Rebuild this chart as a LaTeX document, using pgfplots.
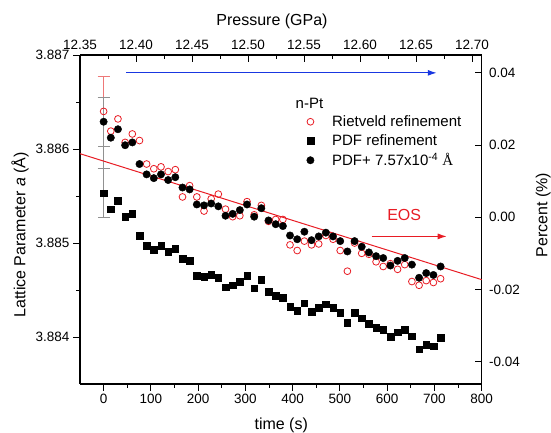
\documentclass[border=0pt]{standalone}
\usepackage{fontspec}
\setmainfont{Liberation Sans}
\newfontfamily\seriffont{Liberation Serif}
\usepackage{pgfplots}
\usepackage{pgfplotstable}
\pgfplotsset{compat=1.18}
\usetikzlibrary{arrows.meta}
\definecolor{eosred}{RGB}{232,28,36}
\definecolor{rblue}{RGB}{25,55,225}
\definecolor{ebred}{RGB}{238,120,120}
\definecolor{ebgray}{RGB}{145,145,145}

\pgfplotstableread{
t pdf riet
0.0 3.88553 3.88640
15.2 3.88536 3.88619
30.3 3.88545 3.88632
45.5 3.88528 3.88607
60.7 3.88531 3.88616
75.9 3.88508 3.88609
91.0 3.88497 3.88584
106.2 3.88493 3.88579
121.4 3.88497 3.88581
136.5 3.88491 3.88576
151.7 3.88494 3.88578
166.9 3.88483 3.88549
182.0 3.88481 3.88561
197.2 3.88465 3.88549
212.4 3.88464 3.88534
227.6 3.88466 3.88547
242.7 3.88463 3.88552
257.9 3.88453 3.88536
273.1 3.88455 3.88528
288.2 3.88459 3.88529
303.4 3.88465 3.88544
318.6 3.88452 3.88530
333.7 3.88461 3.88540
348.9 3.88448 3.88523
364.1 3.88444 3.88525
379.3 3.88442 3.88525
394.4 3.88432 3.88498
409.6 3.88428 3.88492
424.8 3.88436 3.88502
439.9 3.88427 3.88498
455.1 3.88431 3.88499
470.3 3.88435 3.88508
485.4 3.88431 3.88504
500.6 3.88426 3.88492
515.8 3.88415 3.88470
531.0 3.88426 3.88500
546.1 3.88420 3.88489
561.3 3.88414 3.88488
576.5 3.88410 3.88480
591.6 3.88408 3.88475
606.8 3.88400 3.88478
622.0 3.88405 3.88472
637.1 3.88408 3.88477
652.3 3.88401 3.88459
667.5 3.88387 3.88455
682.6 3.88392 3.88460
697.8 3.88390 3.88458
713.0 3.88399 3.88462
}\maindata

\pgfplotstableread{
t pdfp
0.0 3.88629
15.2 3.88612
30.3 3.88621
45.5 3.88604
60.7 3.88607
75.9 3.88584
91.0 3.88573
106.2 3.88569
121.4 3.88573
136.5 3.88567
151.7 3.88570
166.9 3.88559
182.0 3.88557
197.2 3.88541
212.4 3.88540
227.6 3.88542
242.7 3.88539
257.9 3.88529
273.1 3.88531
288.2 3.88535
303.4 3.88541
318.6 3.88528
333.7 3.88537
348.9 3.88524
364.1 3.88520
379.3 3.88518
394.4 3.88508
409.6 3.88504
424.8 3.88512
439.9 3.88503
455.1 3.88507
470.3 3.88511
485.4 3.88507
500.6 3.88502
515.8 3.88491
531.0 3.88502
546.1 3.88496
561.3 3.88490
576.5 3.88486
591.6 3.88484
606.8 3.88476
622.0 3.88481
637.1 3.88484
652.3 3.88477
667.5 3.88463
682.6 3.88468
697.8 3.88466
713.0 3.88475
}\shifteddata

\begin{document}
\begin{tikzpicture}
\pgfplotsset{
  every axis/.append style={
    scale only axis, width=401.7bp, height=329bp,
    axis line style={line width=1.2bp},
    every tick/.style={line width=0.9bp, black},
    major tick length=7bp, minor tick length=4bp,
    tick label style={font=\fontsize{13.5bp}{16bp}\selectfont},
    label style={font=\fontsize{16bp}{19bp}\selectfont},
    /pgf/number format/assume math mode=true,
  }
}
% right axis (percent)
\begin{axis}[
  xmin=-50, xmax=800, ymin=-0.0461, ymax=0.0449,
  axis y line*=right, axis x line=none,
  tick align=inside,
  ytick={-0.04,-0.02,0,0.02,0.04},
  yticklabel style={/pgf/number format/fixed, /pgf/number format/fixed zerofill, /pgf/number format/precision=2},
  scaled y ticks=false,
  yticklabel shift=4bp,
  ylabel={Percent (\%)},
  ylabel style={at={(axis description cs:1.153,0.514)}, anchor=center},
]
\end{axis}
% top axis (pressure)
\begin{axis}[
  xmin=12.35, xmax=12.7087, ymin=0, ymax=1,
  axis x line*=top, axis y line=none,
  tick align=inside,
  xtick={12.35,12.40,12.45,12.50,12.55,12.60,12.65,12.70}, minor x tick num=1,
  xticklabel style={/pgf/number format/fixed, /pgf/number format/fixed zerofill, /pgf/number format/precision=2},
  scaled x ticks=false,
  xticklabel shift=1.5bp,
  xlabel={Pressure (GPa)},
  xlabel style={at={(axis description cs:0.478,1.103)}, anchor=center},
]
\end{axis}
% main axis
\begin{axis}[
  xmin=-50, xmax=800, ymin=3.8835, ymax=3.887,
  axis x line*=bottom, axis y line*=left,
  tick align=outside,
  xtick={0,100,...,800}, minor x tick num=1,
  ytick={3.884,3.885,3.886,3.887}, minor y tick num=1,
  yticklabel style={/pgf/number format/fixed, /pgf/number format/fixed zerofill, /pgf/number format/precision=3},
  scaled y ticks=false,
  xlabel={time (s)},
  xlabel style={at={(axis description cs:0.501,-0.1246)}, anchor=center},
  ylabel={Lattice Parameter \textit{a} (Å)},
  ylabel style={at={(axis description cs:-0.149,0.453)}, anchor=center},
  clip=false,
  legend style={at={(axis cs:423,3.886400)}, anchor=north west, draw=none, fill=none,
    font=\fontsize{15bp}{18bp}\selectfont, row sep=2.5bp,
    /tikz/every odd column/.append style={column sep=16bp}},
  legend cell align=left,
]
% error bars
\addplot[ebred, line width=0.8bp, mark=none, forget plot,
  error bars/.cd, y dir=both, y explicit,
  error bar style={line width=0.8bp, ebred},
  error mark options={rotate=90, mark size=6bp, line width=0.8bp, ebred}]
  coordinates {(0,3.88640) +- (0,0.000373)};
\addplot[ebgray, line width=0.8bp, mark=none, forget plot,
  error bars/.cd, y dir=both, y explicit,
  error bar style={line width=0.8bp, ebgray},
  error mark options={rotate=90, mark size=6bp, line width=0.8bp, ebgray}]
  coordinates {(0,3.88629) +- (0,0.000260) (0,3.88553) +- (0,0.000260)};
% EOS line
\addplot[eosred, line width=1bp, mark=none, forget plot]
  coordinates {(-50,3.88595) (800,3.88461)};
% PDF squares
\addplot[only marks, mark=square*, mark size=3.3bp, black, forget plot]
  table[x=t, y=pdf] {\maindata};
% Rietveld open circles
\addplot[only marks, mark=o, mark size=3.4bp, eosred, mark options={line width=0.8bp}, forget plot]
  table[x=t, y=riet] {\maindata};
% PDF shifted filled circles
\addplot[only marks, mark=*, mark size=3.7bp, black, forget plot]
  table[x=t, y=pdfp] {\shifteddata};
% arrows and text
\draw[rblue, line width=1.2bp, -{Latex[length=9bp,width=6bp]}] (axis cs:48,3.88681) -- (axis cs:705,3.88681);
\draw[eosred, line width=1bp, -{Latex[length=9bp,width=6bp]}] (axis cs:567,3.88507) -- (axis cs:726,3.88507);
\node[eosred, font=\fontsize{16bp}{19bp}\selectfont] at (axis cs:636,3.88530) {EOS};
\node[anchor=west, font=\fontsize{15bp}{18bp}\selectfont] at (axis cs:399,3.88649) {n-Pt};
% legend
\addlegendimage{only marks, mark=o, mark size=3.4bp, eosred, mark options={line width=0.8bp}}
\addlegendentry{Rietveld refinement}
\addlegendimage{only marks, mark=square*, mark size=3.3bp, black}
\addlegendentry{PDF refinement}
\addlegendimage{only marks, mark=*, mark size=3.7bp, black}
\addlegendentry{PDF+ 7.57x10\textsuperscript{-4} {\seriffont Å}}
\coordinate (sw) at (rel axis cs:0,0);
\coordinate (ne) at (rel axis cs:1,1);
\end{axis}
\pgfresetboundingbox
\path ([shift={(-80bp,-49bp)}]sw) rectangle ([shift={(69.3bp,55bp)}]ne);
\end{tikzpicture}
\end{document}
